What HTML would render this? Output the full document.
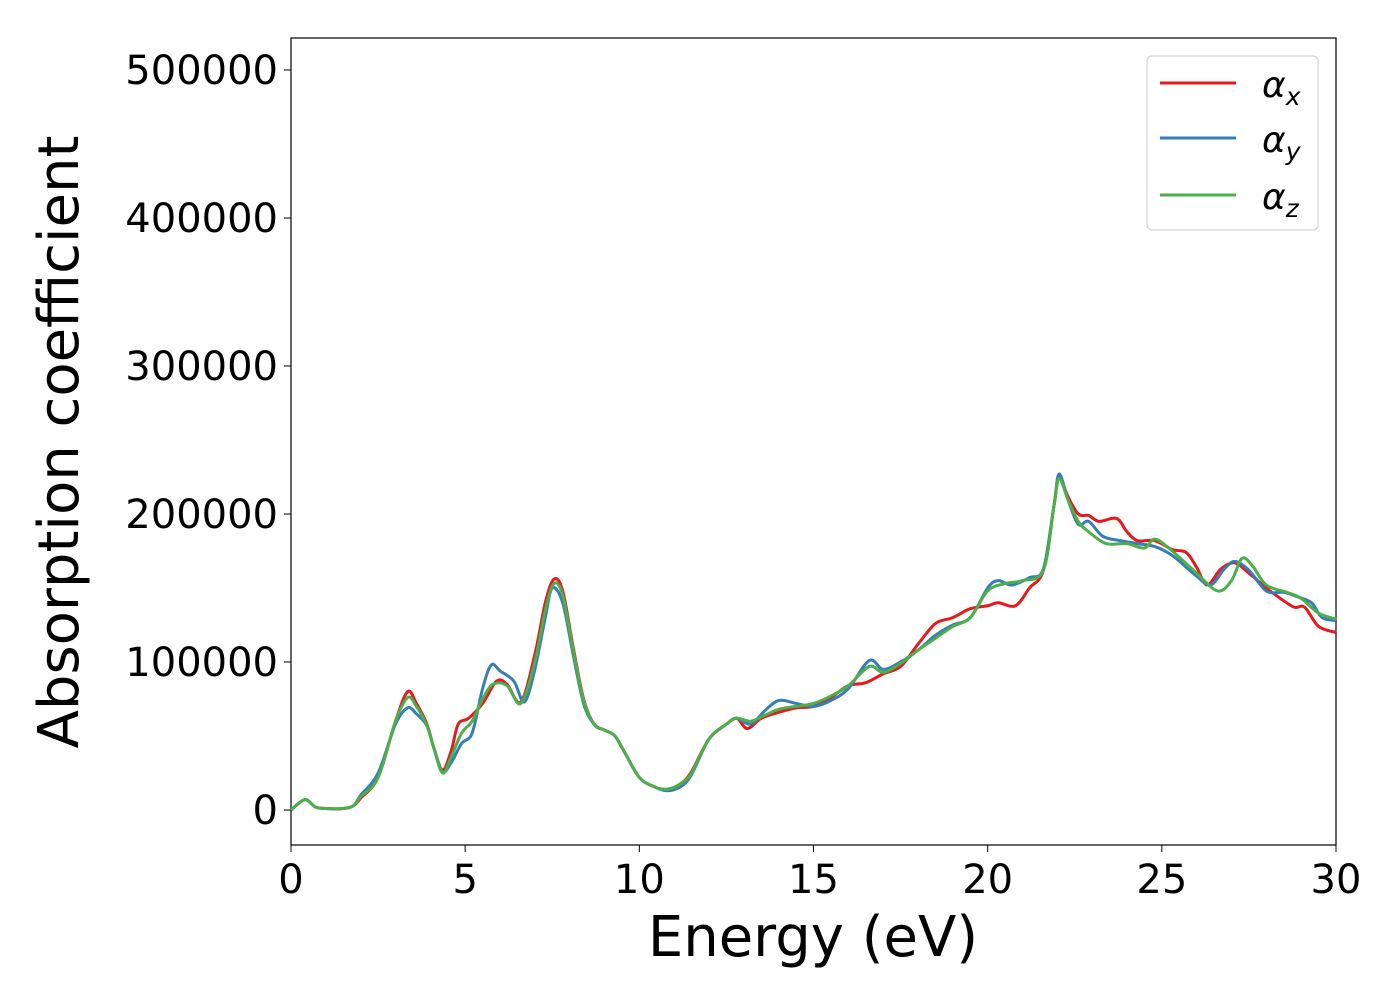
<!DOCTYPE html>
<html><head><meta charset="utf-8"><style>body{margin:0;background:#fff}svg{font-family:"DejaVu Sans","Liberation Sans",sans-serif}</style></head>
<body>
<svg width="1400" height="1000" id="c">
<rect x="291" y="38" width="1045" height="807" fill="#fff" stroke="#000" stroke-width="1.2"/>
<g id="ticks"></g><g id="series"></g>
<text x="813" y="956" font-size="56" text-anchor="middle">Energy (eV)</text>
<text transform="translate(78,442) rotate(-90)" font-size="56" text-anchor="middle">Absorption coefficient</text>
<g>
<rect x="1147" y="56" width="171" height="174" rx="5" fill="#fff" stroke="#ccc"/>
<g><line x1="1160" y1="83" x2="1236" y2="83" stroke="#e41a1c" stroke-width="3"/><text x="1262" y="97" font-size="36" font-style="italic">α<tspan font-size="25" dy="8">x</tspan></text></g>
<g><line x1="1160" y1="138" x2="1236" y2="138" stroke="#377eb8" stroke-width="3"/><text x="1262" y="152" font-size="36" font-style="italic">α<tspan font-size="25" dy="8">y</tspan></text></g>
<g><line x1="1160" y1="195" x2="1236" y2="195" stroke="#4daf4a" stroke-width="3"/><text x="1262" y="209" font-size="36" font-style="italic">α<tspan font-size="25" dy="8">z</tspan></text></g>
</g>
</svg>
<script>
const xTicks=[0,5,10,15,20,25,30];
const yTicks=[0,100000,200000,300000,400000,500000];
const eX=[0,0.4,0.7,1,1.5,1.8,2,2.5,3,3.35,3.6,3.9,4.1,4.35,4.6,4.8,5.1,5.5,5.9,6.2,6.6,7,7.3,7.55,7.8,8.1,8.4,8.7,9,9.3,9.6,10,10.4,10.8,11.2,11.5,12,12.5,12.8,13.1,13.5,14,14.5,15,15.5,16,16.5,17,17.5,18,18.5,19,19.5,20,20.3,20.8,21.2,21.6,21.9,22.05,22.3,22.6,22.9,23.2,23.7,24,24.3,24.8,25.3,25.7,26,26.3,26.7,27.1,27.5,28,28.4,28.8,29.1,29.5,30];
const vX=[0,7,2,1,1,3,8,22,60,80,72,58,42,27,40,58,62,72,87,85,73,105,140,156,148,110,75,58,54,50,38,22,16,14,18,26,48,58,62,55,62,66,69,70,76,84,86,92,97,112,126,130,136,138,140,138,150,162,205,225,212,200,199,195,197,188,182,182,176,174,164,152,163,167,160,150,143,137,137,124,120];
const eY=[0,0.4,0.7,1,1.5,1.8,2,2.5,3,3.35,3.6,3.9,4.1,4.35,4.6,4.9,5.2,5.5,5.75,6,6.4,6.7,7,7.3,7.5,7.8,8.1,8.4,8.7,9,9.3,9.6,10,10.4,10.8,11.2,11.5,12,12.5,12.8,13.2,13.6,14,14.5,15,15.5,16,16.6,17,17.5,18,18.5,19,19.5,20,20.3,20.7,21.2,21.6,21.9,22.05,22.3,22.6,22.9,23.3,23.8,24.3,24.8,25.3,25.7,26,26.4,26.8,27.1,27.5,28,28.5,28.9,29.3,29.6,30];
const vY=[0,7,2,1,1,3,10,25,58,69,65,57,42,26,32,45,52,82,98,94,87,73,95,130,150,140,105,72,58,54,50,38,22,16,13,16,24,48,58,62,58,67,74,72,70,74,82,101,95,100,108,118,125,130,150,155,152,157,163,205,227,210,193,195,185,182,180,178,172,164,158,152,163,168,162,148,147,144,140,130,128];
const eZ=[0,0.4,0.7,1,1.5,1.8,2,2.5,3,3.35,3.6,3.9,4.1,4.35,4.6,4.9,5.2,5.5,5.8,6.2,6.6,7,7.3,7.55,7.8,8.1,8.4,8.7,9,9.3,9.6,10,10.4,10.8,11.2,11.5,12,12.5,12.8,13.2,13.6,14,14.5,15,15.5,16,16.6,17,17.5,18,18.5,19,19.5,20,20.5,21,21.6,21.9,22.05,22.3,22.6,22.9,23.4,24,24.5,24.8,25.3,26,26.6,27,27.3,27.6,28,28.6,29,29.5,30];
const vZ=[0,7,2,1,1,3,9,22,60,76,70,57,42,25,36,52,60,75,85,84,72,100,135,153,145,108,74,58,54,50,38,22,16,14,18,25,48,58,62,60,64,68,70,72,77,84,97,93,99,108,116,124,130,148,153,155,162,205,224,210,195,188,180,180,177,183,175,160,148,155,170,165,152,147,143,133,129];
const X=e=>291+e*1045/30, Y=v=>810-v*148/100000;
const NS='http://www.w3.org/2000/svg';
const tk=document.getElementById('ticks');
function mk(t,a,p){const el=document.createElementNS(NS,t);for(const k in a)el.setAttribute(k,a[k]);p.appendChild(el);return el;}
xTicks.forEach(t=>{mk('line',{x1:X(t),x2:X(t),y1:845,y2:852,stroke:'#000'},tk);
 const el=mk('text',{x:X(t),y:893,'font-size':40,'text-anchor':'middle'},tk);el.textContent=t;
 
 });
yTicks.forEach(t=>{mk('line',{x1:284,x2:291,y1:Y(t),y2:Y(t),stroke:'#000'},tk);
 const el=mk('text',{x:278,y:Y(t)+14,'font-size':40,'text-anchor':'end'},tk);el.textContent=t;
 
 });
function path(es,vs){const p=es.map((e,i)=>[X(e),Y(vs[i]*1000)]);let d='M'+p[0][0]+','+p[0][1];
 for(let i=0;i<p.length-1;i++){const p0=p[i-1]||p[i],p1=p[i],p2=p[i+1],p3=p[i+2]||p2;
  d+=`C${p1[0]+(p2[0]-p0[0])/6},${p1[1]+(p2[1]-p0[1])/6} ${p2[0]-(p3[0]-p1[0])/6},${p2[1]-(p3[1]-p1[1])/6} ${p2[0]},${p2[1]}`;}return d;}
const sg=document.getElementById('series');
[[eX,vX,'#e41a1c','series-alpha-x'],[eY,vY,'#377eb8','series-alpha-y'],[eZ,vZ,'#4daf4a','series-alpha-z']].forEach(s=>{
 const el=mk('path',{d:path(s[0],s[1]),fill:'none',stroke:s[2],'stroke-width':3},sg);
 
 });
</script>
</body></html>
